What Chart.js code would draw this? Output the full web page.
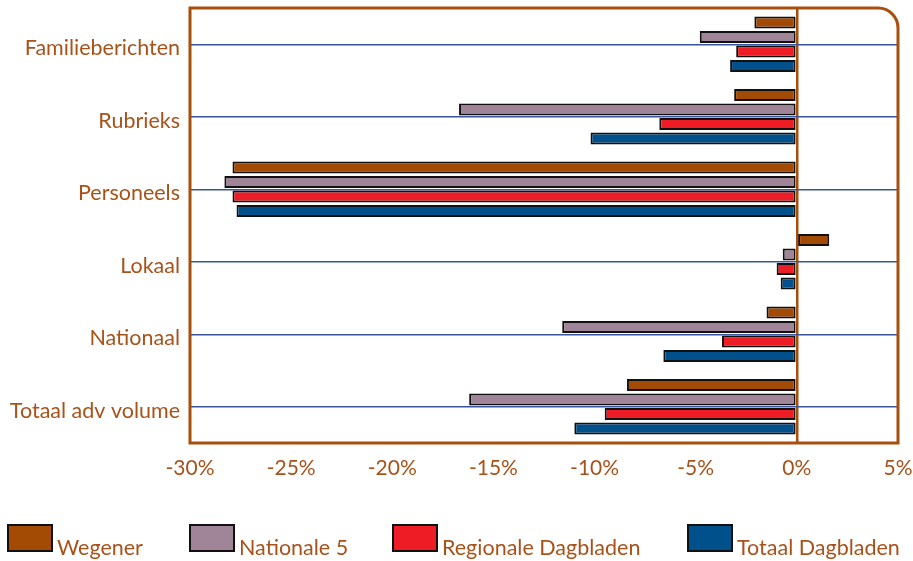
<!DOCTYPE html>
<html>
<head>
<meta charset="utf-8">
<script src="https://cdn.jsdelivr.net/npm/chart.js@4"></script>
<style>
  html, body { margin: 0; padding: 0; background: #fff; }
  #wrap { width: 913px; height: 561px; position: relative; }
</style>
</head>
<body>
<div id="wrap"><canvas id="advChart"></canvas></div>
<script>
const categories = ["Familieberichten", "Rubrieks", "Personeels", "Lokaal", "Nationaal", "Totaal adv volume"];
const seriesNames = ["Wegener", "Nationale 5", "Regionale Dagbladen", "Totaal Dagbladen"];
const wegener = [-2.1, -3.1, -27.9, 1.6, -1.5, -8.4];
const nationale5 = [-4.8, -16.7, -28.3, -0.7, -11.6, -16.2];
const regionale = [-3.0, -6.8, -27.9, -1.0, -3.7, -9.5];
const totaal = [-3.3, -10.2, -27.7, -0.8, -6.6, -11.0];
const xTicks = [-30, -25, -20, -15, -10, -5, 0, 5];

const colors = ["#A34A05", "#A08598", "#EE1C25", "#00508C"];
const textColor = "#A8521A";
const frameColor = "#A84F0C";
const fontFamily = "Lato, 'Noto Sans', sans-serif";

const frame = {
    id: "frame",
    afterDatasetsDraw(chart) {
        const { ctx, chartArea: a } = chart;
        const r = 20;
        ctx.save();
        ctx.strokeStyle = frameColor;
        ctx.lineWidth = 3;
        ctx.beginPath();
        ctx.moveTo(a.left, a.bottom);
        ctx.lineTo(a.left, a.top);
        ctx.lineTo(a.right - r, a.top);
        ctx.arcTo(a.right, a.top, a.right, a.top + r, r);
        ctx.lineTo(a.right, a.bottom);
        ctx.closePath();
        ctx.stroke();
        ctx.restore();
    }
};

// legend drawn below the axis
const legendXs = [8, 190, 393, 688];
const bottomLegend = {
    id: "bottomLegend",
    afterDraw(chart) {
        const ctx = chart.ctx;
        ctx.save();
        ctx.font = "21.5px " + fontFamily;
        ctx.textBaseline = "alphabetic";
        ctx.textAlign = "left";
        seriesNames.forEach((name, i) => {
            const x = legendXs[i];
            ctx.fillStyle = colors[i];
            ctx.fillRect(x, 525, 44, 26);
            ctx.strokeStyle = "#111";
            ctx.lineWidth = 2;
            ctx.strokeRect(x, 525, 44, 26);
            ctx.fillStyle = textColor;
            ctx.fillText(name, x + 49, 555);
        });
        ctx.restore();
    }
};

const datasets = [wegener, nationale5, regionale, totaal].map((vals, i) => ({
    label: seriesNames[i],
    data: vals,
    backgroundColor: colors[i],
    borderColor: "#111",
    borderWidth: 2,
    borderSkipped: false,
    categoryPercentage: 0.8,
    barPercentage: 0.84
}));

new Chart(document.getElementById("advChart"), {
    type: "bar",
    data: { labels: categories, datasets: datasets },
    options: {
        indexAxis: "y",
        responsive: true,
        maintainAspectRatio: false,
        animation: false,
        layout: { padding: { top: 8, right: 15, left: 0, bottom: 0 } },
        plugins: {
            legend: { display: false },
            tooltip: { enabled: false }
        },
        scales: {
            x: {
                min: -30,
                max: 5,
                afterBuildTicks: axis => { axis.ticks = xTicks.map(v => ({ value: v })); },
                afterFit: axis => {
                    axis.height = 118;
                    axis.paddingLeft = 0;
                    axis.paddingRight = 0;
                },
                border: { display: false },
                grid: {
                    drawTicks: false,
                    color: c => c.tick && c.tick.value === 0 ? frameColor : "rgba(0,0,0,0)",
                    lineWidth: 2.5
                },
                ticks: {
                    padding: 13,
                    color: textColor,
                    font: { family: fontFamily, size: 21 },
                    callback: v => v + "%"
                }
            },
            y: {
                afterFit: axis => {
                    axis.width = 190;
                    axis.paddingTop = 0;
                    axis.paddingBottom = 0;
                },
                border: { display: false },
                grid: {
                    offset: false,
                    drawTicks: false,
                    color: "#3A55A0",
                    lineWidth: 1.5
                },
                ticks: {
                    padding: 10,
                    labelOffset: 4,
                    color: textColor,
                    font: { family: fontFamily, size: 21.5 }
                }
            }
        }
    },
    plugins: [frame, bottomLegend]
});
</script>
</body>
</html>
